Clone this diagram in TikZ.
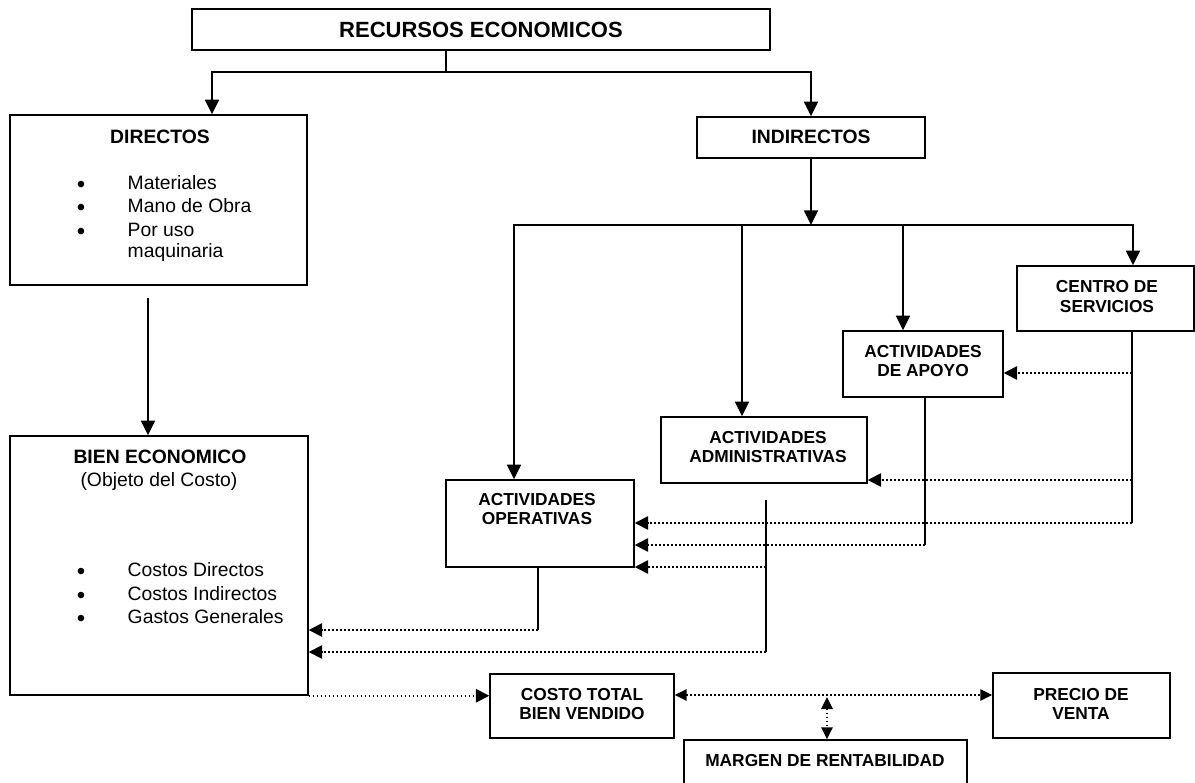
\documentclass[tikz,border=0pt]{standalone}
\usepackage{fontspec}
\setmainfont{Liberation Sans}
\usetikzlibrary{arrows.meta,calc,fit}
\newcommand\fLbl{\fontsize{13}{14.6}\selectfont\bfseries}
\newcommand\fTtl{\fontsize{16.5}{19}\selectfont\bfseries}
\newcommand\fHd{\fontsize{14.5}{17}\selectfont\bfseries}
\newcommand\fBd{\fontsize{14.5}{17}\selectfont}
\newcommand\fBul{\fontsize{18}{20}\selectfont}
\begin{document}
\begin{tikzpicture}[x=0.75pt,y=-0.75pt,
  box/.style={draw, line width=1.1pt, inner sep=0pt},
  lbl/.style={font=\fLbl, align=center, inner sep=0pt},
  ln/.style={line width=1.3pt},
  arr/.style={ln, -{Triangle[width=10.5pt,length=11pt]}},
  dl/.style={line width=1.25pt, dash pattern=on 1.25pt off 1.75pt},
  darr/.style={dl, -{Triangle[width=10pt,length=10pt]}},
  ddarr/.style={dl, {Triangle[width=8.5pt,length=9pt]}-{Triangle[width=8.5pt,length=9pt]}},
  bul/.style={font=\fBul, anchor=base},
  itm/.style={font=\fBd, anchor=base west},
]
\clip (0,0) rectangle (1195,782);
\fill[white] (0,0) rectangle (1195,782);

% boxes
\node[box, fit={(192,9) (770,50)}] (rec) {};
\node[box, fit={(10,115) (307,285)}] (dir) {};
\node[box, fit={(697,117) (925,158)}] (ind) {};
\node[box, fit={(1017,266) (1194,331)}] (cen) {};
\node[box, fit={(843,331) (1003,397)}] (apo) {};
\node[box, fit={(661,417) (867,483)}] (adm) {};
\node[box, fit={(446,480) (634,567)}] (op) {};
\node[box, fit={(10,436) (308,695)}] (bien) {};
\node[box, fit={(490,674) (674,738)}] (cos) {};
\node[box, fit={(993,673) (1170,738)}] (pre) {};
\node[box, fit={(684,740) (967,792)}] (mar) {};

% box labels
\node[lbl, font=\fTtl] (rect) at (481,30) {RECURSOS ECONOMICOS};
\node[lbl, font=\fHd] (indt) at (811,137) {INDIRECTOS};
\node[lbl] (cent) at (1107,296.5) {CENTRO DE\\SERVICIOS};
\node[lbl] (apot) at (923,361) {ACTIVIDADES\\DE APOYO};
\node[lbl] (admt) at (768,447) {ACTIVIDADES\\ADMINISTRATIVAS};
\node[lbl] (opt) at (537,509) {ACTIVIDADES\\OPERATIVAS};
\node[lbl] (cost) at (582,704) {COSTO TOTAL\\BIEN VENDIDO};
\node[lbl] (pret) at (1081,704) {PRECIO DE\\VENTA};
\node[lbl] (mart) at (825,761) {MARGEN DE RENTABILIDAD};

\node[font=\fHd, anchor=base] (dirt) at (160,143) {DIRECTOS};
\node[bul] (db1) at (81,192) {\textbullet};
\node[bul] (db2) at (81,215.5) {\textbullet};
\node[bul] (db3) at (81,239) {\textbullet};
\node[itm] (di1) at (123,189) {Materiales};
\node[itm] (di2) at (123,212.5) {Mano de Obra};
\node[itm] (di3) at (123,236) {Por uso};
\node[itm] (di4) at (123,257) {maquinaria};

\node[font=\fHd, anchor=base] (bient) at (160,463) {BIEN ECONOMICO};
\node[font=\fBd, anchor=base] (biens) at (159,486.5) {(Objeto del Costo)};
\node[bul] (bb1) at (81,579.5) {\textbullet};
\node[bul] (bb2) at (81,603) {\textbullet};
\node[bul] (bb3) at (81,626.5) {\textbullet};
\node[itm] (bi1) at (123,576.5) {Costos Directos};
\node[itm] (bi2) at (123,600) {Costos Indirectos};
\node[itm] (bi3) at (123,623.5) {Gastos Generales};

% top tree
\coordinate (j0) at (446,72);
\coordinate (xd) at (212,0);
\draw[ln] (rec.south -| j0) -- (j0);
\draw[arr] (j0) -| (dir.north -| xd);
\draw[arr] (j0) -| (ind.north);

\coordinate (xb) at (148,0);
\draw[arr] ($(dir.south -| xb)+(0,12)$) -- (bien.north -| xb);

% indirect bus
\coordinate (j1) at (811,225);
\coordinate (xo) at (514,0);
\coordinate (xa) at (742,0);
\coordinate (xp) at (903,0);
\coordinate (xc) at (1133,0);
\draw[arr] (ind.south) -- (j1);
\draw[arr] (j1) -| (op.north -| xo);
\draw[arr] (j1) -| (cen.north -| xc);
\draw[arr] (j1 -| xa) -- (adm.north -| xa);
\draw[arr] (j1 -| xp) -- (apo.north -| xp);

% centro de servicios
\coordinate (c1) at (1132,373);
\coordinate (c2) at (1132,480);
\coordinate (c3) at (1132,523);
\draw[ln] (cen.south -| c1) -- (c3);
\draw[darr] (c1) -- (c1 -| apo.east);
\draw[darr] (c2) -- (c2 -| adm.east);
\draw[darr] (c3) -- (c3 -| op.east);

% apoyo
\coordinate (a1) at (925,545);
\draw[ln] (apo.south -| a1) -- (a1);
\draw[darr] (a1) -- (a1 -| op.east);

% administrativas
\coordinate (d0) at (766,500);
\coordinate (d1) at (766,567);
\coordinate (d2) at (766,652);
\draw[ln] (d0) -- (d2);
\draw[darr] (d1) -- (d1 -| op.east);
\draw[darr] (d2) -- (d2 -| bien.east);

% operativas
\coordinate (o1) at (538,630);
\draw[ln] (op.south -| o1) -- (o1);
\draw[darr] (o1) -- (o1 -| bien.east);

% bottom
\draw[darr] (bien.south east) -- (bien.south east -| cos.west);
\coordinate (m1) at (827,695);
\draw[ddarr] (m1 -| cos.east) -- (m1 -| pre.west);
\draw[ddarr] ($(m1)+(0,2)$) -- (mar.north -| m1);
\end{tikzpicture}
\end{document}
